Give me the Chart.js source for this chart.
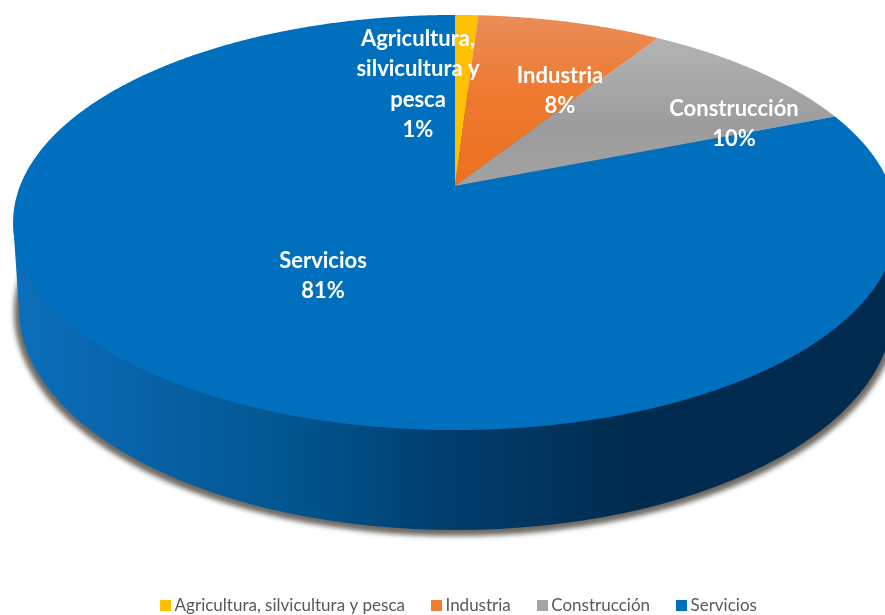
<!DOCTYPE html>
<html><head><meta charset="utf-8">
<style>html,body{margin:0;padding:0;background:#fff}canvas{display:block}</style>
<script src="https://cdn.jsdelivr.net/npm/chart.js@4"></script></head>
<body><canvas id="c" width="885" height="615"></canvas>
<script>
const categories = ["Agricultura, silvicultura y pesca", "Industria", "Construcción", "Servicios"];
const values = [1, 8, 10, 81];
const sliceColors = ["#ffc000", "#ed7d31", "#a5a5a5", "#006fbe"];
const labelLines = [["Agricultura,", "silvicultura y", "pesca"], ["Industria"], ["Construcción"], ["Servicios"]];

// Perspective of the tilted disc: the circle centre lands at the apex, off the ellipse centre.
const APEX_X = 455, APEX_Y = 186, PK = 435, PA = -168.4, PC = 0.176;
function project(a) {
  const u = Math.cos(a), v = -Math.sin(a), w = PC * v + 1;
  return [APEX_X + PK * u / w, (PA * v + APEX_Y) / w];
}
const labelAnchor = [[418, 39], [560, 76], [734, 109], [323, 261]];
const LINE = 30.3;
const BX = 456, BY = 309, BRX = 437, BRY = 221;

function vGrad(ctx, y0, y1, stops) {
  const g = ctx.createLinearGradient(0, y0, 0, y1);
  stops.forEach(s => g.addColorStop(s[0], s[1]));
  return g;
}
const pie3d = {
  id: 'pie3d',
  beforeDatasetDraw(chart, args) {
    const ctx = chart.ctx, arcs = args.meta.data;
    ctx.save();
    // soft shadow below the side wall
    ctx.save();
    ctx.filter = 'blur(2.5px)';
    ctx.fillStyle = '#6f6a64';
    ctx.beginPath(); ctx.ellipse(BX, BY + 3, BRX + 5, BRY + 3, 0, 0, Math.PI * 2); ctx.fill();
    ctx.restore();
    const g = ctx.createLinearGradient(13, 0, 885, 0);
    [[0, '#0b6fbb'], [0.1, '#0a66ae'], [0.32, '#00568f'], [0.5, '#003e6e'], [0.7, '#002c50'], [1, '#002b4f']]
      .forEach(s => g.addColorStop(s[0], s[1]));
    ctx.fillStyle = g;
    ctx.beginPath();
    ctx.moveTo(13, 222); ctx.lineTo(BX - BRX, BY);
    ctx.ellipse(BX, BY, BRX, BRY, 0, Math.PI, 0, true);
    ctx.lineTo(897, 222); ctx.closePath(); ctx.fill();
    // top face, from the library's computed arc angles
    const fills = [
      sliceColors[0],
      vGrad(ctx, 15, 185, [[0, '#e98d58'], [0.45, '#ee7a30'], [1, '#ed7020']]),
      vGrad(ctx, 38, 185, [[0, '#b4b4b4'], [0.6, '#9c9c9c'], [1, '#a2a2a2']]),
      sliceColors[3]
    ];
    arcs.forEach((arc, i) => {
      const p = arc.getProps(['startAngle', 'endAngle'], true);
      ctx.fillStyle = fills[i];
      ctx.beginPath(); ctx.moveTo(APEX_X, APEX_Y);
      const n = Math.ceil((p.endAngle - p.startAngle) / 0.005);
      for (let k = 0; k <= n; k++) {
        const q = project(p.startAngle + (p.endAngle - p.startAngle) * k / n);
        ctx.lineTo(q[0], q[1]);
      }
      ctx.closePath(); ctx.fill();
    });
    ctx.restore();
    return false;
  },
  afterDatasetsDraw(chart) {
    const ctx = chart.ctx;
    ctx.save();
    ctx.fillStyle = '#fff'; ctx.textAlign = 'center'; ctx.textBaseline = 'middle';
    ctx.font = 'bold 22px Lato';
    values.forEach((val, i) => {
      const lines = labelLines[i].concat([val + '%']);
      lines.forEach((t, j) => ctx.fillText(t, labelAnchor[i][0], labelAnchor[i][1] + j * LINE));
    });
    ctx.restore();
  }
};
function swatch(color) {
  const c = document.createElement('canvas'); c.width = 11; c.height = 11;
  const x = c.getContext('2d'); x.fillStyle = color; x.fillRect(0, 0, 11, 11);
  return c;
}
new Chart(document.getElementById('c'), {
  type: 'pie',
  data: { labels: categories, datasets: [{ data: values, backgroundColor: sliceColors, borderWidth: 0 }] },
  plugins: [pie3d],
  options: {
    responsive: false, animation: false,
    layout: { padding: { left: 37, right: 0, top: 0, bottom: -9 } },
    plugins: {
      tooltip: { enabled: false },
      legend: {
        position: 'bottom',
        labels: {
          usePointStyle: true, boxWidth: 1, boxHeight: 1, padding: 31,
          color: '#595959', font: { family: 'Lato', size: 17 },
          generateLabels(chart) {
            return categories.map((t, i) => ({
              text: t, pointStyle: swatch(sliceColors[i]), fontColor: '#595959', index: i,
              fillStyle: sliceColors[i], strokeStyle: sliceColors[i], lineWidth: 0, hidden: false
            }));
          }
        }
      }
    }
  }
});
</script></body></html>
